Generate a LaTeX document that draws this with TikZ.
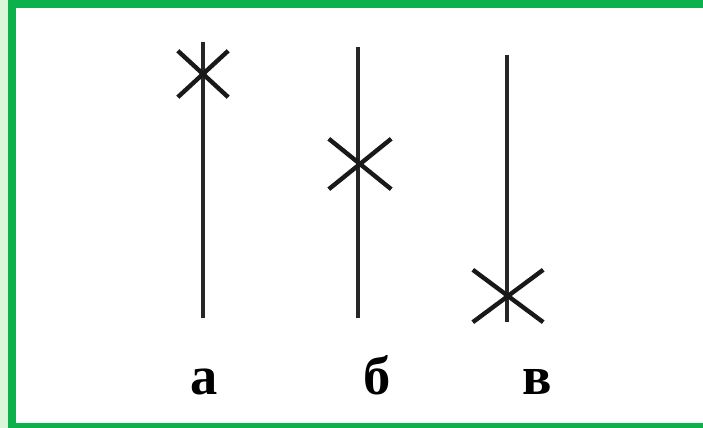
\documentclass[tikz,border=0pt]{standalone}
\usepackage{fontspec}
\setmainfont{Liberation Serif}
\usetikzlibrary{shapes.misc}
\definecolor{frameGreen}{HTML}{0DB14B}
\definecolor{paleGreen}{HTML}{D9F6D9}

\begin{document}
\begin{tikzpicture}[
  x=0.01cm, y=-0.01cm,
  stem/.style={line width=0.9pt, black!85},
  crossmark/.style 2 args={cross out, draw=black!90, line width=1.25pt,
    inner sep=0pt, minimum width=#1*0.01cm, minimum height=#2*0.01cm},
  caption/.style={anchor=base, font=\fontsize{15.5}{18}\selectfont\bfseries}
]
  \useasboundingbox (0,0) rectangle (703,428);
  % frame
  \fill[paleGreen] (0,0) rectangle (8,428);
  \fill[frameGreen] (8,0) rectangle (703,8);
  \fill[frameGreen] (8,0) rectangle (16,428);
  \fill[frameGreen] (8,423) rectangle (703,428);

  % stems
  \coordinate (aTop) at (203,42);  \coordinate (aBot) at (203,318);
  \coordinate (bTop) at (358,47);  \coordinate (bBot) at (358,318);
  \coordinate (cTop) at (507,55);  \coordinate (cBot) at (507,322);
  \draw[stem] (aTop) -- (aBot);
  \draw[stem] (bTop) -- (bBot);
  \draw[stem] (cTop) -- (cBot);

  % crosses
  \node[crossmark={46}{42}] (crossA) at (203,74) {};
  \node[crossmark={58}{46}] (crossB) at (360,164) {};
  \node[crossmark={66}{48}] (crossC) at (508,296) {};

  % labels
  \node[caption] (labA) at (204,395) {а};
  \node[caption] (labB) at (377,395) {б};
  \node[caption] (labC) at (537,395) {в};
\end{tikzpicture}
\end{document}
